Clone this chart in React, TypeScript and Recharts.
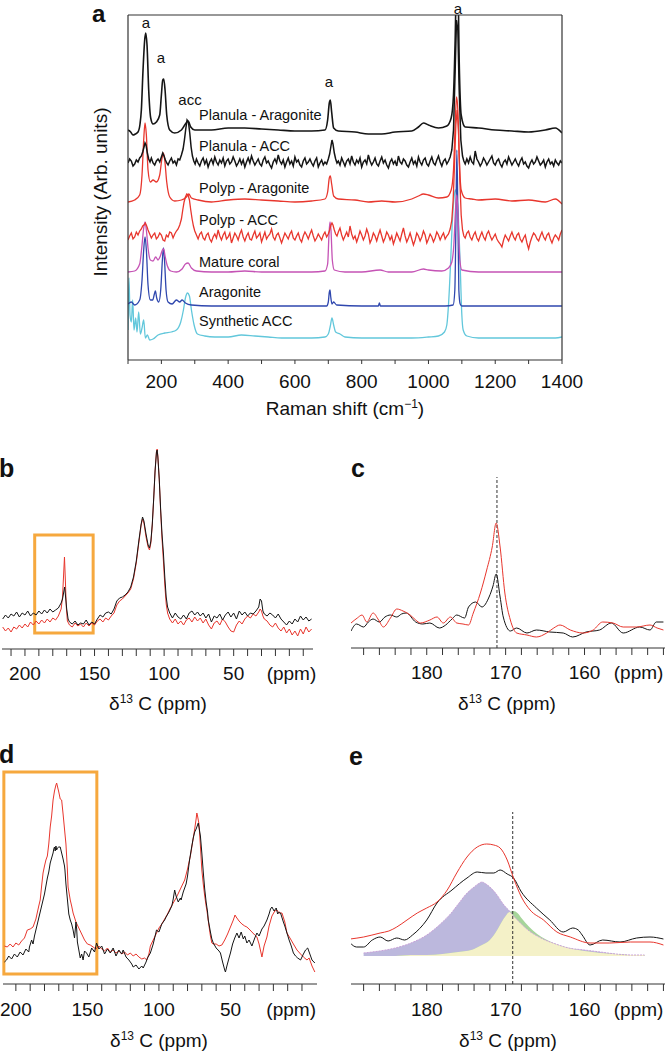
import React from "react";
import {
  LineChart,
  ComposedChart,
  Line,
  Area,
  XAxis,
  YAxis,
  ReferenceArea,
  ReferenceLine,
} from "recharts";

type Pt = [number, number];

const FONT = '"Liberation Sans", Arial, Helvetica, sans-serif';
const BLACK = "#151515";
const RED = "#e8362d";
const MAGENTA = "#c553b5";
const BLUE = "#2f47ae";
const CYAN = "#62c7db";
const ORANGE = "#f6a83e";
const AXIS = "#333";

// ---------- panel a: Raman spectra (x = Raman shift cm-1, y = offset intensity) ----------
const ramanTicks = [100, 200, 300, 400, 500, 600, 700, 800, 900, 1000, 1100, 1200, 1300, 1400];
const ramanTopTicks = [200, 300, 400, 500, 600, 700, 800, 900, 1000, 1100, 1200, 1300];
const ramanLeftTicks = [19, 53.2, 87.4, 121.6, 155.8, 190, 224.2, 258.4, 292.6, 326.8];
const ramanRightTicks = [53.2, 121.6, 190, 258.4, 326.8];

const planulaAragonite: Pt[] = [
  [100, 230], [108, 228], [115, 225], [122, 226], [130, 228], [136, 236], [140, 250], [145, 290],
  [150, 320], [153, 327], [157, 315], [162, 270], [168, 242], [175, 236], [185, 238], [195, 245],
  [200, 265], [204, 280], [207, 281], [211, 270], [216, 245], [225, 230], [240, 227], [260, 230],
  [272, 236], [280, 239], [288, 233], [300, 230], [350, 230], [400, 232], [450, 232], [500, 231],
  [550, 230], [600, 229], [650, 229], [690, 230], [698, 240], [703, 257], [706, 260], [710, 248],
  [716, 232], [730, 229], [780, 228], [820, 226], [860, 226], [900, 228], [950, 229], [970, 233],
  [985, 237], [1000, 235], [1030, 232], [1055, 234], [1068, 242], [1075, 265], [1080, 320],
  [1084, 380], [1088, 380], [1092, 300], [1098, 245], [1110, 233], [1150, 232], [1200, 230],
  [1250, 229], [1300, 228], [1350, 230], [1380, 232], [1400, 227],
];

const planulaAcc: Pt[] = [
  [100, 197], [105, 201], [110, 199], [115, 194], [120, 196], [125, 200], [130, 198], [135, 202],
  [140, 204], [144, 208], [148, 213], [151, 217], [154, 215], [158, 207], [162, 201], [166, 198],
  [170, 202], [175, 197], [180, 195], [185, 199], [190, 201], [195, 198], [200, 203], [204, 207],
  [208, 204], [212, 200], [216, 197], [220, 195], [225, 199], [230, 202], [235, 197], [240, 199],
  [245, 195], [250, 201], [255, 200], [260, 205], [265, 211], [269, 220], [273, 231], [277, 240],
  [281, 238], [285, 227], [289, 213], [293, 204], [297, 199], [301, 196], [305, 201], [310, 197],
  [315, 194], [320, 199], [325, 202], [330, 196], [335, 200], [340, 193], [345, 198], [350, 201],
  [355, 196], [360, 203], [365, 198], [370, 195], [375, 200], [380, 197], [385, 202], [390, 194],
  [395, 199], [400, 201], [405, 196], [410, 198], [415, 203], [420, 199], [425, 194], [430, 197],
  [435, 201], [440, 196], [445, 200], [450, 193], [455, 198], [460, 202], [465, 197], [470, 204],
  [475, 199], [480, 195], [485, 198], [490, 201], [495, 196], [500, 194], [505, 200], [510, 203],
  [515, 197], [520, 199], [525, 195], [530, 192], [535, 198], [540, 201], [545, 197], [550, 205],
  [555, 199], [560, 196], [565, 200], [570, 193], [575, 198], [580, 202], [585, 196], [590, 199],
  [595, 194], [600, 203], [605, 198], [610, 200], [615, 195], [620, 193], [625, 199], [630, 202],
  [635, 196], [640, 198], [645, 201], [650, 197], [655, 194], [660, 199], [665, 202], [670, 193],
  [675, 197], [680, 200], [685, 195], [690, 198], [695, 196], [700, 201], [704, 206], [708, 214],
  [711, 220], [714, 216], [718, 207], [722, 201], [726, 197], [730, 199], [735, 195], [740, 202],
  [745, 198], [750, 194], [755, 199], [760, 201], [765, 196], [770, 204], [775, 198], [780, 195],
  [785, 200], [790, 197], [795, 202], [800, 193], [805, 198], [810, 200], [815, 196], [820, 205],
  [825, 199], [830, 195], [835, 198], [840, 202], [845, 196], [850, 194], [855, 199], [860, 203],
  [865, 197], [870, 200], [875, 195], [880, 192], [885, 198], [890, 201], [895, 196], [900, 199],
  [905, 194], [910, 204], [915, 198], [920, 196], [925, 201], [930, 199], [935, 195], [940, 193],
  [945, 198], [950, 202], [955, 196], [960, 199], [965, 194], [970, 203], [975, 198], [980, 195],
  [985, 200], [990, 202], [995, 196], [1000, 194], [1005, 199], [1010, 203], [1015, 197],
  [1020, 195], [1025, 200], [1030, 204], [1035, 198], [1040, 194], [1045, 199], [1050, 201],
  [1055, 196], [1060, 199], [1065, 203], [1070, 210], [1075, 230], [1080, 290], [1084, 340],
  [1088, 330], [1092, 270], [1097, 220], [1102, 204], [1106, 199], [1110, 196], [1115, 201],
  [1120, 197], [1125, 203], [1130, 198], [1135, 196], [1140, 209], [1145, 201], [1150, 198],
  [1155, 194], [1160, 197], [1165, 202], [1170, 199], [1175, 195], [1180, 198], [1185, 201],
  [1190, 204], [1195, 197], [1200, 195], [1205, 199], [1210, 201], [1215, 196], [1220, 193],
  [1225, 198], [1230, 200], [1235, 196], [1240, 203], [1245, 199], [1250, 195], [1255, 198],
  [1260, 201], [1265, 197], [1270, 194], [1275, 199], [1280, 202], [1285, 196], [1290, 198],
  [1295, 194], [1300, 192], [1305, 197], [1310, 200], [1315, 196], [1320, 198], [1325, 203],
  [1330, 199], [1335, 195], [1340, 197], [1345, 200], [1350, 193], [1355, 198], [1360, 201],
  [1365, 196], [1370, 198], [1375, 194], [1380, 200], [1385, 197], [1390, 195], [1395, 199],
  [1400, 197],
];

const polypAragonite: Pt[] = [
  [100, 158], [120, 160], [135, 165], [142, 185], [147, 220], [151, 237], [155, 225], [160, 190],
  [167, 178], [175, 180], [185, 178], [195, 185], [201, 200], [206, 207], [210, 200], [216, 178],
  [225, 163], [240, 159], [260, 160], [275, 163], [282, 166], [290, 162], [310, 160], [350, 158],
  [400, 160], [450, 161], [500, 160], [550, 159], [600, 158], [650, 159], [690, 161], [698, 168],
  [703, 182], [706, 184], [710, 176], [716, 164], [730, 161], [780, 160], [820, 158], [860, 159],
  [900, 158], [950, 161], [970, 164], [985, 166], [1000, 165], [1030, 162], [1055, 163],
  [1068, 170], [1075, 190], [1080, 235], [1084, 263], [1088, 250], [1092, 205], [1098, 170],
  [1110, 162], [1130, 161], [1150, 160], [1200, 161], [1250, 159], [1300, 160], [1350, 158],
  [1380, 161], [1400, 156],
];

const polypAcc: Pt[] = [
  [100, 120], [105, 124], [110, 127], [115, 121], [120, 123], [125, 128], [130, 125], [135, 129],
  [140, 131], [144, 134], [148, 135], [152, 137], [156, 134], [160, 130], [165, 126], [170, 122],
  [175, 125], [180, 127], [185, 121], [190, 123], [195, 127], [200, 125], [205, 120], [210, 119],
  [215, 125], [220, 123], [225, 128], [230, 127], [235, 122], [240, 126], [245, 129], [250, 131],
  [255, 135], [260, 141], [264, 150], [268, 158], [272, 163], [276, 166], [280, 165], [284, 160],
  [288, 150], [292, 141], [296, 134], [300, 129], [305, 125], [310, 121], [315, 126], [320, 128],
  [325, 122], [330, 120], [335, 125], [340, 127], [345, 121], [350, 118], [355, 123], [360, 126],
  [365, 122], [370, 130], [375, 124], [380, 120], [385, 125], [390, 128], [395, 121], [400, 123],
  [405, 127], [410, 117], [415, 122], [420, 127], [425, 124], [430, 120], [435, 126], [440, 130],
  [445, 123], [450, 119], [455, 124], [460, 127], [465, 121], [470, 120], [475, 125], [480, 129],
  [485, 122], [490, 124], [495, 127], [500, 118], [505, 123], [510, 128], [515, 121], [520, 124],
  [525, 126], [530, 131], [535, 123], [540, 120], [545, 125], [550, 127], [555, 122], [560, 117],
  [565, 122], [570, 127], [575, 124], [580, 121], [585, 126], [590, 129], [595, 122], [600, 120],
  [605, 124], [610, 127], [615, 121], [620, 118], [625, 124], [630, 128], [635, 125], [640, 121],
  [645, 126], [650, 130], [655, 124], [660, 119], [665, 122], [670, 126], [675, 123], [680, 120],
  [685, 125], [690, 128], [695, 123], [700, 126], [704, 130], [708, 135], [711, 137], [714, 135],
  [718, 130], [722, 126], [726, 124], [730, 128], [735, 132], [740, 125], [745, 120], [750, 124],
  [755, 128], [760, 123], [765, 134], [770, 126], [775, 121], [780, 124], [785, 118], [790, 123],
  [795, 129], [800, 125], [805, 120], [810, 124], [815, 131], [820, 126], [825, 117], [830, 121],
  [835, 127], [840, 124], [845, 119], [850, 125], [855, 130], [860, 124], [865, 118], [870, 122],
  [875, 128], [880, 125], [885, 120], [890, 124], [895, 116], [900, 121], [905, 127], [910, 123],
  [915, 119], [920, 126], [925, 132], [930, 124], [935, 118], [940, 122], [945, 127], [950, 121],
  [955, 115], [960, 120], [965, 127], [970, 124], [975, 119], [980, 123], [985, 129], [990, 125],
  [995, 117], [1000, 121], [1005, 126], [1010, 123], [1015, 118], [1020, 122], [1025, 128],
  [1030, 125], [1035, 120], [1040, 124], [1045, 127], [1050, 121], [1055, 124], [1060, 126],
  [1065, 131], [1070, 140], [1074, 160], [1078, 195], [1082, 235], [1086, 250], [1090, 230],
  [1094, 180], [1098, 145], [1102, 130], [1106, 124], [1110, 122], [1115, 127], [1120, 129],
  [1125, 123], [1130, 120], [1135, 125], [1140, 128], [1145, 122], [1150, 119], [1155, 124],
  [1160, 128], [1165, 123], [1170, 120], [1175, 126], [1180, 129], [1185, 124], [1190, 120],
  [1195, 123], [1200, 126], [1205, 121], [1210, 118], [1215, 116], [1220, 113], [1225, 120],
  [1230, 125], [1235, 122], [1240, 119], [1245, 124], [1250, 128], [1255, 123], [1260, 120],
  [1265, 125], [1270, 127], [1275, 121], [1280, 118], [1285, 122], [1290, 125], [1295, 117],
  [1300, 111], [1305, 118], [1310, 123], [1315, 127], [1320, 125], [1325, 121], [1330, 119],
  [1335, 124], [1340, 128], [1345, 123], [1350, 120], [1355, 125], [1360, 127], [1365, 121],
  [1370, 117], [1375, 122], [1380, 125], [1385, 123], [1390, 120], [1395, 126], [1400, 130],
];

const matureCoral: Pt[] = [
  [100, 88], [120, 89], [135, 96], [142, 115], [147, 132], [151, 138], [155, 130], [160, 112],
  [167, 100], [175, 99], [183, 103], [190, 100], [197, 104], [203, 110], [207, 111], [211, 104],
  [218, 94], [228, 89], [245, 88], [262, 91], [272, 96], [280, 97], [290, 92], [305, 89], [350, 88],
  [400, 88], [450, 89], [500, 88], [550, 88], [600, 88], [650, 88], [690, 89], [698, 96], [702, 125],
  [705, 138], [708, 130], [712, 100], [718, 90], [750, 88], [800, 88], [855, 90], [880, 88],
  [950, 88], [985, 91], [1000, 90], [1040, 89], [1060, 92], [1070, 98], [1076, 115], [1081, 150],
  [1085, 165], [1089, 140], [1094, 100], [1100, 90], [1150, 88], [1200, 88], [1250, 88],
  [1300, 88], [1350, 88], [1400, 88],
];

const aragonite: Pt[] = [
  [100, 56], [110, 58], [120, 55], [135, 60], [142, 80], [147, 110], [151, 123], [155, 110],
  [160, 75], [167, 60], [174, 60], [179, 66], [182, 69], [186, 62], [192, 58], [198, 70], [203, 100],
  [206, 112], [209, 102], [214, 70], [220, 58], [232, 56], [245, 60], [255, 58], [262, 60],
  [272, 57], [290, 55], [350, 54], [400, 54], [450, 54], [500, 54], [550, 54], [600, 54], [650, 54],
  [695, 54], [700, 58], [703, 68], [705, 70], [707, 64], [711, 56], [716, 58], [725, 55], [800, 54],
  [850, 54], [853, 57], [856, 54], [900, 54], [950, 54], [1000, 54], [1050, 54], [1074, 55],
  [1079, 70], [1082, 130], [1085, 210], [1088, 150], [1091, 70], [1095, 56], [1100, 54],
  [1150, 54], [1200, 54], [1300, 54], [1400, 54],
];

const syntheticAcc: Pt[] = [
  [100, 30], [103, 82], [106, 45], [110, 38], [114, 60], [118, 30], [123, 42], [127, 28], [132, 48],
  [137, 26], [142, 32], [147, 40], [152, 22], [158, 25], [165, 20], [175, 21], [190, 25], [210, 27],
  [230, 28], [245, 30], [258, 38], [266, 50], [272, 62], [278, 67], [284, 64], [290, 50], [298, 35],
  [308, 26], [330, 24], [360, 23], [400, 23], [440, 25], [480, 24], [520, 23], [560, 22], [600, 22],
  [650, 22], [690, 23], [700, 26], [706, 34], [711, 42], [716, 35], [722, 28], [735, 26], [750, 23],
  [800, 22], [850, 22], [900, 22], [950, 22], [1000, 23], [1030, 24], [1048, 28], [1055, 35],
  [1060, 55], [1066, 95], [1071, 135], [1076, 160], [1080, 170], [1085, 165], [1090, 140],
  [1095, 95], [1100, 45], [1104, 30], [1115, 24], [1150, 22], [1200, 22], [1250, 22], [1300, 22],
  [1350, 22], [1380, 22], [1400, 23],
];

const ramanSeries = [
  { name: "Synthetic ACC", data: syntheticAcc, color: CYAN, width: 1.3, type: "monotone" },
  { name: "Aragonite", data: aragonite, color: BLUE, width: 1.3, type: "monotone" },
  { name: "Mature coral", data: matureCoral, color: MAGENTA, width: 1.3, type: "monotone" },
  { name: "Polyp - ACC", data: polypAcc, color: RED, width: 1.3, type: "linear" },
  { name: "Polyp - Aragonite", data: polypAragonite, color: RED, width: 1.3, type: "monotone" },
  { name: "Planula - ACC", data: planulaAcc, color: BLACK, width: 1.5, type: "linear" },
  { name: "Planula - Aragonite", data: planulaAragonite, color: BLACK, width: 1.6, type: "monotone" },
];

// trace labels: [text, left x, cap centre y]
const ramanLabels: [string, number, number][] = [
  ["Planula - Aragonite", 199, 115],
  ["Planula - ACC", 199, 145.7],
  ["Polyp - Aragonite", 199, 188],
  ["Polyp - ACC", 199, 220],
  ["Mature coral", 199, 261.7],
  ["Aragonite", 199, 291.7],
  ["Synthetic ACC", 199, 320.7],
];
const peakLabels: [string, number, number][] = [
  ["a", 146, 24],
  ["a", 161, 59],
  ["acc", 190, 101],
  ["a", 329, 82.5],
];

// ---------- panel b: 13C NMR wide range ----------
const bTicks = [210, 200, 190, 180, 170, 160, 150, 140, 130, 120, 110, 100, 90, 80, 70, 60, 50, 40, 30, 20, 10, 0];
const bBlack: Pt[] = [
  [216, 30], [214, 34], [212, 31], [210, 35], [208, 33], [206, 37], [204, 32], [202, 36], [200, 34],
  [198, 38], [196, 33], [194, 36], [192, 34], [190, 38], [188, 35], [186, 39], [184, 36], [182, 40],
  [180, 37], [178, 39], [176, 41], [174, 46], [173, 50], [172, 58], [171.5, 62], [171, 55], [170, 40],
  [169, 30], [168, 27], [166, 25], [164, 28], [162, 24], [160, 26], [158, 25], [156, 29], [154, 24],
  [152, 27], [150, 25], [148, 30], [146, 34], [144, 32], [142, 36], [140, 37], [138, 35], [136, 40],
  [134, 48], [132, 51], [130, 52], [128, 54], [126, 57], [124, 62], [122, 72], [120, 88], [118, 110],
  [116.5, 125], [115.5, 132], [114.5, 128], [113, 115], [111.5, 104], [110.5, 101], [109.5, 108],
  [108.5, 125], [107.5, 150], [106.5, 178], [105.5, 197], [105, 199], [104.5, 192], [103.5, 170],
  [102.5, 140], [101.5, 115], [100.5, 96], [99.5, 72], [98.5, 52], [97.5, 42], [96, 36], [94, 31],
  [92, 36], [90, 32], [88, 30], [86, 34], [84, 30], [82, 36], [80, 38], [78, 34], [76, 37], [74, 33],
  [72, 36], [70, 31], [68, 35], [66, 27], [64, 33], [62, 31], [60, 35], [58, 29], [56, 34], [54, 37],
  [52, 32], [50, 36], [48, 30], [46, 38], [44, 34], [42, 37], [40, 33], [38, 36], [36, 35], [34, 38],
  [32, 42], [31, 50], [30, 48], [29, 38], [28, 35], [26, 33], [24, 36], [22, 34], [20, 31], [18, 35],
  [16, 30], [14, 27], [12, 24], [10, 28], [8, 25], [6, 30], [4, 27], [2, 33], [0, 29], [-2, 32],
  [-4, 28], [-6, 30],
];
const bRed: Pt[] = [
  [216, 22], [214, 18], [212, 21], [210, 17], [208, 22], [206, 20], [204, 24], [202, 21], [200, 25],
  [198, 22], [196, 27], [194, 24], [192, 28], [190, 25], [188, 29], [186, 26], [184, 30], [182, 27],
  [180, 31], [178, 29], [176, 33], [174, 40], [173, 52], [172.2, 75], [171.6, 92], [171, 70],
  [170.3, 42], [169.5, 28], [168, 24], [166, 22], [164, 26], [162, 23], [160, 25], [158, 22],
  [156, 26], [154, 23], [152, 26], [150, 24], [148, 28], [146, 30], [144, 27], [142, 31], [140, 29],
  [138, 33], [136, 36], [134, 44], [132, 48], [130, 50], [128, 53], [126, 56], [124, 60], [122, 70],
  [120, 86], [118, 108], [116.5, 124], [115.5, 130], [114.5, 126], [113, 112], [111.5, 102],
  [110.5, 99], [109.5, 106], [108.5, 124], [107.5, 150], [106.5, 178], [105.5, 197], [105, 200],
  [104.5, 193], [103.5, 170], [102.5, 138], [101.5, 110], [100.5, 88], [99.5, 64], [98.5, 45],
  [97.5, 36], [96, 30], [94, 26], [92, 30], [90, 25], [88, 28], [86, 24], [84, 29], [82, 31], [80, 27],
  [78, 32], [76, 28], [74, 31], [72, 26], [70, 30], [68, 24], [66, 20], [64, 26], [62, 28], [60, 24],
  [58, 30], [56, 27], [54, 22], [52, 18], [50, 17], [48, 24], [46, 28], [44, 25], [42, 30], [40, 33],
  [38, 31], [36, 35], [34, 33], [32, 37], [31, 40], [30, 38], [29, 33], [28, 30], [26, 28], [24, 24],
  [22, 22], [20, 26], [18, 21], [16, 18], [14, 22], [12, 16], [10, 20], [8, 14], [6, 18], [4, 13],
  [2, 20], [0, 15], [-2, 22], [-4, 17], [-6, 20],
];

// ---------- panel c: carbonyl region ----------
const cTicks = [188, 186, 184, 182, 180, 178, 176, 174, 172, 170, 168, 166, 164, 162, 160, 158, 156, 154, 152, 150];
const cRed: Pt[] = [
  [189.6, 25], [188.8, 30], [188.2, 33], [187.6, 26], [186.8, 35], [186.1, 28], [185.5, 21],
  [184.6, 30], [183.8, 39], [183, 37], [182.1, 33], [181.4, 28], [180.8, 25], [179.6, 28],
  [178.7, 31], [177.9, 25], [177, 31], [176.2, 25], [175.4, 24], [174.7, 23], [174.1, 35],
  [173.2, 55], [172.4, 78], [171.7, 101], [171.2, 125], [170.7, 101], [170.1, 55], [169.4, 28],
  [168.6, 15], [167.3, 13], [166.1, 11], [164.8, 15], [163.9, 20], [163.1, 23], [161.8, 18],
  [160.2, 15], [158.9, 18], [157.7, 26], [156.4, 25], [155.1, 21], [153.4, 21], [151.7, 23],
  [150.8, 20], [150, 18],
];
const cBlack: Pt[] = [
  [189.6, 17], [188.9, 24], [188, 21], [187.4, 26], [186.8, 29], [186, 26], [185.3, 31], [184.6, 33],
  [183.8, 31], [183.2, 34], [182.6, 35], [181.4, 26], [180.5, 24], [179.6, 25], [178.4, 20],
  [177.6, 23], [176.8, 29], [176.2, 33], [175.2, 30], [174.7, 41], [173.8, 46], [173, 41],
  [172.1, 51], [171.6, 62], [171.2, 74], [170.7, 51], [170.3, 31], [169.4, 17], [168.6, 20],
  [167.3, 15], [166.1, 18], [164.4, 16], [162.7, 15], [161.5, 11], [159.8, 16], [158.1, 18],
  [156.6, 25], [155.1, 15], [153, 21], [151.7, 18], [150.9, 26], [150, 26],
];

// ---------- panel d: second sample, wide range ----------
const dTicks = [200, 190, 180, 170, 160, 150, 140, 130, 120, 110, 100, 90, 80, 70, 60, 50, 40, 30, 20, 10, 0];
const dRed: Pt[] = [
  [208, 38], [206, 37], [204, 40], [202, 37], [200, 41], [198, 39], [196, 43], [194, 46], [192, 54],
  [190, 55], [188, 57], [186, 65], [184, 78], [183, 84], [182, 98], [181, 111], [180, 118],
  [179, 124], [178, 128], [177, 140], [176, 157], [175, 168], [174, 184], [173, 193], [172, 199],
  [171.5, 201], [171, 198], [170, 192], [169, 185], [168, 184], [167, 170], [166, 155], [165, 140],
  [164, 115], [163.5, 97], [162, 84], [161, 78], [160, 71], [158, 62], [156, 56], [154, 50],
  [152, 44], [150, 40], [148, 39], [146, 37], [144, 35], [142, 38], [140, 35], [138, 33], [136, 36],
  [134, 32], [132, 34], [130, 31], [128, 33], [126, 30], [124, 32], [122, 29], [120, 31], [118, 28],
  [116, 30], [114, 27], [112, 25], [110, 26], [108.5, 24], [107, 30], [106, 38], [104, 44],
  [102, 50], [100, 56], [98, 60], [96, 65], [94, 70], [92, 76], [90, 81], [88, 86], [86, 92], [84, 98],
  [82, 104], [80, 115], [78, 128], [77, 137], [76, 146], [75, 155], [74, 165], [73.5, 171],
  [73, 168], [72, 160], [71, 138], [70, 114], [69, 100], [68, 88], [67, 78], [66.5, 74], [65, 58],
  [64, 48], [63, 41], [62, 40], [60, 40], [58, 38], [56, 39], [54, 44], [52, 50], [50, 57], [48, 64],
  [46.8, 69], [46, 67], [44, 63], [42, 60], [40, 58], [38.5, 57], [37, 55], [35, 52], [33, 49],
  [31.5, 47], [30, 40], [28, 27], [26.5, 38], [24.5, 47], [23, 58], [21, 68], [19, 73], [17.5, 74],
  [16, 71], [14, 71], [12, 62], [10.5, 51], [8, 45], [6, 40], [3.5, 34], [1, 30], [-1, 27],
  [-3.5, 24], [-5, 26], [-7, 18], [-9, 12],
];
const dBlack: Pt[] = [
  [208, 22], [206.5, 24], [205, 28], [203, 25], [201, 30], [199, 27], [197, 32], [195, 29],
  [193, 35], [191, 32], [190.5, 37], [189, 44], [188, 40], [187, 48], [186, 54], [185, 60],
  [184, 66], [183, 72], [182, 78], [181, 84], [180, 90], [179, 98], [178, 106], [177, 112],
  [176, 121], [175, 126], [174, 131], [173.5, 135], [173, 137], [172.5, 133], [172, 138],
  [171.5, 134], [171, 136], [170, 137], [169, 137], [168, 131], [167, 125], [166, 118], [165.7, 114],
  [165, 100], [164, 85], [163, 70], [162, 64], [161, 60], [160, 54], [159, 46], [158, 62],
  [157.5, 55], [157, 42], [156, 34], [155, 26], [154, 30], [153, 24], [152, 33], [150.6, 31],
  [149, 27], [147, 36], [145, 32], [143.6, 41], [142, 35], [140, 38], [138, 30], [136, 35], [134, 31],
  [132, 36], [130, 28], [128, 34], [126, 30], [125, 34], [123, 27], [121, 24], [119, 20], [118, 17],
  [116, 19], [114, 15], [112, 18], [111, 16], [109, 22], [108, 26], [106, 31], [104, 40],
  [102.5, 49], [101.7, 54], [100, 52], [98, 60], [96, 64], [95, 67], [93, 72], [91, 78], [90, 85],
  [89, 94], [88, 88], [86.5, 82], [85, 86], [84.5, 84], [83, 92], [81, 100], [80, 108], [78.6, 124],
  [77, 138], [76, 146], [75, 152], [74, 155], [73.5, 157], [72.5, 161], [72, 157], [71, 148],
  [70, 131], [69, 112], [68, 95], [67, 82], [66, 72], [65.5, 64], [64, 52], [63, 45], [62, 41],
  [60, 36], [58, 33], [57, 31], [55.5, 22], [54, 14], [53.5, 12], [52.5, 18], [51, 26], [50, 31],
  [48.5, 40], [47, 46], [45.5, 51], [44, 46], [42.5, 52], [41, 45], [40, 48], [38.5, 41], [37, 44],
  [35, 38], [33, 46], [31.5, 51], [30, 48], [28, 55], [26.5, 58], [24.5, 64], [23, 70], [22, 75],
  [21, 77], [19.5, 73], [18, 76], [17, 70], [16, 72], [15, 71], [13, 62], [12, 58], [10.5, 51],
  [9, 44], [7.5, 38], [6, 31], [4.5, 28], [3, 26], [1, 24], [-1, 30], [-2.5, 34], [-4, 36],
  [-5.5, 30], [-7, 24], [-9, 21],
];

// ---------- panel e: carbonyl region with two fitted components ----------
const eTicks = cTicks;
const eRed: Pt[] = [
  [189.7, 45], [188, 47], [185.9, 51], [184.8, 53], [183.8, 57], [182.5, 64], [181.2, 71], [180, 76],
  [178.7, 82], [177.4, 94], [176.2, 111], [174.9, 127], [173.6, 137], [172.4, 140], [171.5, 139],
  [170.7, 136], [169.8, 124], [169, 106], [168, 87], [166.9, 74], [165.2, 64], [163.5, 52],
  [161.8, 47], [159.3, 41], [156.8, 41], [154.2, 42], [151.7, 42], [150, 39],
];
const eBlack: Pt[] = [
  [189.7, 41], [188.9, 37], [188, 37], [186.9, 44], [185.9, 47], [184.9, 43], [183.8, 46],
  [182.8, 44], [181.8, 49], [180, 64], [178.7, 81], [176.8, 94], [174.9, 106], [173.6, 112],
  [172.5, 111], [171.5, 111], [170.7, 114], [169.8, 110], [169, 106], [168, 92], [166.1, 76],
  [164.4, 64], [162.7, 52], [161.5, 56], [160.8, 54], [160.3, 49], [159.3, 39], [157.7, 44],
  [155.5, 42], [153.4, 46], [151.7, 47], [150, 45],
];
const eCompX = [188, 186, 184, 182, 180, 178, 177, 176, 175, 174, 173.5, 173, 172.5, 172, 171, 170.5, 170, 169.5, 169, 168.5, 168, 167, 166, 165, 164, 162, 160, 158, 156, 154, 152.4];
const ePurple = [31, 33, 36, 41, 49, 62, 70, 80, 90, 97, 100, 102, 100, 97, 88, 82, 77, 73, 68, 64, 60, 53, 48, 44, 41, 36, 34, 32, 30, 29, 29];
const eGreen = [28, 28, 28, 29, 29, 30, 31, 32, 33, 35, 37, 39, 41, 44, 55, 62, 68, 72, 73, 71, 66, 57, 50, 45, 41, 36, 33, 31, 30, 29, 29];
const eBase = 28;

const eComponents = eCompX.map((x, i) => ({
  x,
  purple: ePurple[i],
  green: eGreen[i],
  both: Math.min(ePurple[i], eGreen[i]),
}));

const toPts = (arr: Pt[]) => arr.map(([x, y]) => ({ x, y }));

function PpmTick(props: any) {
  const { x, y, payload, shown, unitAt, unitDx } = props;
  const v = payload.value;
  if (v === unitAt) {
    return (
      <text x={x + unitDx} y={y} dy="0.71em" textAnchor="end" fontSize={19} fill="#111">
        (ppm)
      </text>
    );
  }
  if (shown.includes(v)) {
    return (
      <text x={x} y={y} dy="0.71em" textAnchor="middle" fontSize={19} fill="#111">
        {v}
      </text>
    );
  }
  return <g />;
}

function Txt({ left, top, size, bold, children, width, center, lh }: any) {
  return (
    <div
      style={{
        position: "absolute",
        left: center ? left - width / 2 : left,
        top,
        width: width ?? "auto",
        fontSize: size,
        lineHeight: `${lh ?? size}px`,
        fontWeight: bold ? 700 : 400,
        textAlign: center ? "center" : "left",
        whiteSpace: "nowrap",
        color: "#111",
      }}
    >
      {children}
    </div>
  );
}

const Sup = ({ children }: any) => (
  <span style={{ fontSize: 12, position: "relative", top: -7 }}>{children}</span>
);

const ppmTitle = (
  <>
    δ<Sup>13</Sup> C (ppm)
  </>
);

export default function App() {
  return (
    <div
      style={{
        position: "absolute",
        left: 0,
        top: 0,
        width: 667,
        height: 1051,
        background: "#fff",
        fontFamily: FONT,
        overflow: "hidden",
      }}
    >
      {/* panel a */}
      <div style={{ position: "absolute", left: 0, top: 0 }}>
        <LineChart width={667} height={420} margin={{ top: 15, right: 105, left: 0, bottom: 0 }}>
          <XAxis
            dataKey="x"
            type="number"
            domain={[100, 1400]}
            ticks={ramanTicks}
            interval={0}
            allowDataOverflow
            height={60}
            tickSize={4}
            tickMargin={11}
            tickFormatter={(v: number) => (v % 200 === 0 ? String(v) : "")}
            tick={{ fontSize: 19, fill: "#111" }}
            axisLine={{ stroke: AXIS, strokeWidth: 1.2 }}
            tickLine={{ stroke: AXIS }}
          />
          <XAxis
            xAxisId="top"
            orientation="top"
            dataKey="x"
            type="number"
            domain={[100, 1400]}
            ticks={ramanTopTicks}
            interval={0}
            allowDataOverflow
            mirror
            tick={false}
            tickSize={5}
            axisLine={{ stroke: AXIS, strokeWidth: 1.2 }}
            tickLine={{ stroke: AXIS }}
          />
          <YAxis
            type="number"
            domain={[0, 345]}
            ticks={ramanLeftTicks}
            interval={0}
            allowDataOverflow
            width={128}
            tick={false}
            tickSize={7}
            axisLine={{ stroke: AXIS, strokeWidth: 1.2 }}
            tickLine={{ stroke: AXIS }}
          />
          <YAxis
            yAxisId="r"
            orientation="right"
            type="number"
            domain={[0, 345]}
            ticks={ramanRightTicks}
            interval={0}
            allowDataOverflow
            mirror
            tick={false}
            tickSize={5}
            axisLine={{ stroke: AXIS, strokeWidth: 1.2 }}
            tickLine={{ stroke: AXIS }}
          />
          {ramanSeries.map((s) => (
            <Line
              key={s.name}
              data={toPts(s.data)}
              dataKey="y"
              type={s.type as any}
              stroke={s.color}
              strokeWidth={s.width}
              dot={false}
              isAnimationActive={false}
            />
          ))}
        </LineChart>
      </div>

      {/* panel b */}
      <div style={{ position: "absolute", left: 0, top: 430 }}>
        <LineChart width={330} height={280} margin={{ top: 14, right: 17, left: 2, bottom: 0 }}>
          <XAxis
            dataKey="x"
            type="number"
            domain={[-7, 216.5]}
            reversed
            ticks={bTicks}
            interval={0}
            allowDataOverflow
            height={61}
            tickSize={7}
            tickMargin={11}
            tick={(p: any) => <PpmTick {...p} shown={[200, 150, 100, 50]} unitAt={0} unitDx={13} />}
            axisLine={{ stroke: AXIS }}
            tickLine={{ stroke: AXIS }}
          />
          <YAxis hide type="number" domain={[0, 205]} allowDataOverflow />
          <ReferenceArea x1={193} x2={151} y1={16} y2={114} fill="none" stroke={ORANGE} strokeWidth={3} ifOverflow="visible" />
          <Line data={toPts(bRed)} dataKey="y" type="linear" stroke={RED} strokeWidth={1} dot={false} isAnimationActive={false} />
          <Line data={toPts(bBlack)} dataKey="y" type="linear" stroke={BLACK} strokeWidth={1} dot={false} isAnimationActive={false} />
        </LineChart>
      </div>

      {/* panel c */}
      <div style={{ position: "absolute", left: 330, top: 430 }}>
        <LineChart width={337} height={280} margin={{ top: 38, right: 2, left: 21, bottom: 0 }}>
          <XAxis
            dataKey="x"
            type="number"
            domain={[149.8, 189.6]}
            reversed
            ticks={cTicks}
            interval={0}
            allowDataOverflow
            height={62}
            tickSize={7}
            tickMargin={11}
            tick={(p: any) => <PpmTick {...p} shown={[180, 170, 160]} unitAt={150} unitDx={0} />}
            axisLine={{ stroke: AXIS }}
            tickLine={{ stroke: AXIS }}
          />
          <YAxis hide type="number" domain={[0, 180]} allowDataOverflow />
          <ReferenceLine
            segment={[{ x: 171.1, y: 0 }, { x: 171.1, y: 171 }]}
            stroke="#333"
            strokeDasharray="3 2"
            ifOverflow="visible"
          />
          <Line data={toPts(cBlack)} dataKey="y" type="monotone" stroke={BLACK} strokeWidth={1} dot={false} isAnimationActive={false} />
          <Line data={toPts(cRed)} dataKey="y" type="monotone" stroke={RED} strokeWidth={1} dot={false} isAnimationActive={false} />
        </LineChart>
      </div>

      {/* panel d */}
      <div style={{ position: "absolute", left: 0, top: 740 }}>
        <LineChart width={330} height={311} margin={{ top: 24, right: 13, left: 3, bottom: 0 }}>
          <XAxis
            dataKey="x"
            type="number"
            domain={[-10.5, 209]}
            reversed
            ticks={dTicks}
            interval={0}
            allowDataOverflow
            height={67}
            tickSize={7}
            tickMargin={12}
            tick={(p: any) => <PpmTick {...p} shown={[200, 150, 100, 50]} unitAt={0} unitDx={14} />}
            axisLine={{ stroke: AXIS }}
            tickLine={{ stroke: AXIS }}
          />
          <YAxis hide type="number" domain={[0, 220]} allowDataOverflow />
          <ReferenceArea x1={208.4} x2={143.4} y1={10} y2={212} fill="none" stroke={ORANGE} strokeWidth={3} ifOverflow="visible" />
          <Line data={toPts(dRed)} dataKey="y" type="linear" stroke={RED} strokeWidth={1} dot={false} isAnimationActive={false} />
          <Line data={toPts(dBlack)} dataKey="y" type="linear" stroke={BLACK} strokeWidth={1} dot={false} isAnimationActive={false} />
        </LineChart>
      </div>

      {/* panel e */}
      <div style={{ position: "absolute", left: 330, top: 740 }}>
        <ComposedChart data={eComponents} width={337} height={311} margin={{ top: 64, right: 2, left: 21, bottom: 0 }}>
          <XAxis
            dataKey="x"
            type="number"
            domain={[149.8, 189.6]}
            reversed
            ticks={eTicks}
            interval={0}
            allowDataOverflow
            height={67}
            tickSize={7}
            tickMargin={12}
            tick={(p: any) => <PpmTick {...p} shown={[180, 170, 160]} unitAt={150} unitDx={0} />}
            axisLine={{ stroke: AXIS }}
            tickLine={{ stroke: AXIS }}
          />
          <YAxis hide type="number" domain={[0, 180]} allowDataOverflow />
          <Area dataKey="purple" type="monotone" baseValue={eBase} fill="#bcb8dd" fillOpacity={1} stroke="none" isAnimationActive={false} />
          <Area dataKey="green" type="monotone" baseValue={eBase} fill="#a6d59a" fillOpacity={1} stroke="none" isAnimationActive={false} />
          <Area dataKey="both" type="monotone" baseValue={eBase} fill="#f4f1c8" fillOpacity={1} stroke="none" isAnimationActive={false} />
          <Line dataKey="purple" type="monotone" stroke="#c9a2d8" strokeWidth={1} strokeDasharray="2 1" dot={false} isAnimationActive={false} />
          <ReferenceLine
            segment={[{ x: 169.1, y: 0 }, { x: 169.1, y: 172 }]}
            stroke="#333"
            strokeDasharray="3 2"
            ifOverflow="visible"
          />
          <Line data={toPts(eBlack)} dataKey="y" type="monotone" stroke={BLACK} strokeWidth={1} dot={false} isAnimationActive={false} />
          <Line data={toPts(eRed)} dataKey="y" type="monotone" stroke={RED} strokeWidth={1} dot={false} isAnimationActive={false} />
        </ComposedChart>
      </div>

      {/* panel a texts */}
      {ramanLabels.map(([t, x, y]) => (
        <Txt key={t} left={x} top={y - 7.1} size={14.5}>
          {t}
        </Txt>
      ))}
      {peakLabels.map(([t, x, y], i) => (
        <Txt key={i} left={x} top={y - 8.8} size={15} width={40} center>
          {t}
        </Txt>
      ))}
      <Txt left={458} top={1} size={15} width={20} center>
        a
      </Txt>
      <Txt left={345} top={398.7} size={19} width={240} center>
        Raman shift (cm<Sup>−1</Sup>)
      </Txt>
      <div
        style={{
          position: "absolute",
          left: 101 - 120,
          top: 192 - 10,
          width: 240,
          height: 20,
          fontSize: 19,
          lineHeight: "20px",
          textAlign: "center",
          whiteSpace: "nowrap",
          transform: "rotate(-90deg)",
          color: "#111",
        }}
      >
        Intensity (Arb. units)
      </div>

      {/* panel letters */}
      <Txt left={92} top={1.5} size={24} bold>a</Txt>
      <Txt left={-1} top={455.8} size={25} bold>b</Txt>
      <Txt left={351} top={455.8} size={25} bold>c</Txt>
      <Txt left={-1} top={741.8} size={25} bold>d</Txt>
      <Txt left={349} top={743.8} size={25} bold>e</Txt>

      {/* NMR axis titles */}
      <Txt left={158} top={693.7} size={19} width={160} center>{ppmTitle}</Txt>
      <Txt left={507} top={693.7} size={19} width={160} center>{ppmTitle}</Txt>
      <Txt left={159} top={1030.7} size={19} width={160} center>{ppmTitle}</Txt>
      <Txt left={508} top={1030.7} size={19} width={160} center>{ppmTitle}</Txt>
    </div>
  );
}
